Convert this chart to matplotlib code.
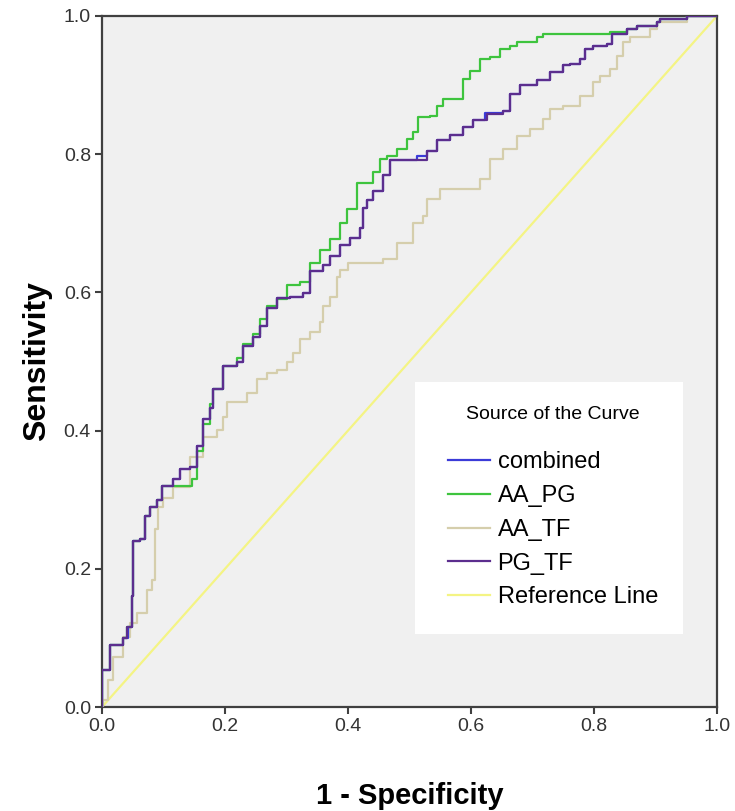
import numpy as np
import matplotlib.pyplot as plt
from matplotlib.patches import Rectangle

plt.rcParams['font.family'] = ['Liberation Sans', 'DejaVu Sans']

# ROC curves: (1 - specificity, sensitivity) at step corners
pg_tf_x = [0.0, 0.0, 0.013, 0.034, 0.04, 0.049, 0.05, 0.062, 0.07, 0.078, 0.089, 0.098, 0.115,
           0.127, 0.143, 0.154, 0.164, 0.176, 0.18, 0.197, 0.22, 0.229, 0.246, 0.257, 0.268,
           0.285, 0.306, 0.327, 0.338, 0.359, 0.371, 0.387, 0.403, 0.42, 0.424, 0.431, 0.441,
           0.457, 0.468, 0.517, 0.528, 0.545, 0.566, 0.587, 0.603, 0.626, 0.652, 0.663, 0.68,
           0.707, 0.728, 0.75, 0.761, 0.777, 0.785, 0.798, 0.821, 0.829, 0.854, 0.87, 0.902,
           0.907, 0.951, 1.0]
pg_tf_y = [0.0, 0.054, 0.09, 0.10, 0.116, 0.16, 0.24, 0.243, 0.276, 0.289, 0.30, 0.32, 0.33,
           0.344, 0.347, 0.378, 0.417, 0.432, 0.46, 0.493, 0.50, 0.523, 0.536, 0.552, 0.577,
           0.592, 0.594, 0.599, 0.631, 0.64, 0.653, 0.669, 0.679, 0.693, 0.722, 0.733, 0.747,
           0.77, 0.791, 0.792, 0.805, 0.82, 0.828, 0.839, 0.849, 0.858, 0.863, 0.887, 0.90,
           0.908, 0.919, 0.929, 0.93, 0.938, 0.952, 0.957, 0.959, 0.974, 0.981, 0.986, 0.991,
           0.996, 1.0, 1.0]

combined_x = [0.0, 0.0, 0.013, 0.034, 0.042, 0.049, 0.05, 0.062, 0.07, 0.078, 0.089, 0.098, 0.115,
              0.127, 0.143, 0.154, 0.164, 0.176, 0.18, 0.197, 0.22, 0.229, 0.246, 0.257, 0.268,
              0.285, 0.306, 0.327, 0.338, 0.359, 0.371, 0.387, 0.403, 0.42, 0.424, 0.431, 0.441,
              0.457, 0.468, 0.512, 0.528, 0.545, 0.566, 0.587, 0.603, 0.622, 0.652, 0.663, 0.68,
              0.707, 0.728, 0.75, 0.761, 0.777, 0.785, 0.798, 0.821, 0.829, 0.854, 0.87, 0.902,
              0.907, 0.951, 1.0]
combined_y = [0.0, 0.054, 0.09, 0.10, 0.116, 0.16, 0.24, 0.243, 0.276, 0.289, 0.30, 0.32, 0.33,
              0.344, 0.347, 0.378, 0.417, 0.432, 0.46, 0.493, 0.50, 0.523, 0.536, 0.552, 0.577,
              0.592, 0.594, 0.599, 0.631, 0.64, 0.653, 0.669, 0.679, 0.693, 0.722, 0.733, 0.747,
              0.77, 0.791, 0.797, 0.805, 0.82, 0.828, 0.839, 0.849, 0.860, 0.863, 0.887, 0.90,
              0.908, 0.919, 0.929, 0.93, 0.938, 0.952, 0.957, 0.959, 0.974, 0.981, 0.986, 0.991,
              0.996, 1.0, 1.0]

aa_pg_x = [0.0, 0.0, 0.013, 0.034, 0.04, 0.049, 0.05, 0.062, 0.07, 0.078, 0.089, 0.098, 0.146,
           0.155, 0.165, 0.176, 0.18, 0.197, 0.22, 0.229, 0.246, 0.257, 0.268, 0.285, 0.30,
           0.322, 0.338, 0.354, 0.371, 0.387, 0.398, 0.415, 0.441, 0.452, 0.463, 0.48, 0.496,
           0.506, 0.514, 0.533, 0.545, 0.554, 0.577, 0.587, 0.598, 0.615, 0.631, 0.647, 0.663,
           0.675, 0.696, 0.707, 0.717, 0.826, 0.854, 0.87, 0.902, 0.907, 0.951, 1.0]
aa_pg_y = [0.0, 0.054, 0.09, 0.10, 0.116, 0.16, 0.24, 0.243, 0.276, 0.289, 0.30, 0.32, 0.33,
           0.37, 0.41, 0.438, 0.46, 0.493, 0.505, 0.525, 0.54, 0.562, 0.58, 0.59, 0.61,
           0.615, 0.643, 0.662, 0.677, 0.701, 0.72, 0.759, 0.774, 0.793, 0.797, 0.807, 0.822,
           0.832, 0.854, 0.855, 0.87, 0.88, 0.88, 0.909, 0.92, 0.938, 0.941, 0.952, 0.957,
           0.962, 0.962, 0.97, 0.974, 0.977, 0.981, 0.986, 0.991, 0.996, 1.0, 1.0]

aa_tf_x = [0.0, 0.002, 0.01, 0.018, 0.034, 0.046, 0.057, 0.073, 0.081, 0.086, 0.091, 0.099, 0.115,
           0.143, 0.164, 0.187, 0.197, 0.203, 0.22, 0.236, 0.252, 0.268, 0.285, 0.301, 0.311,
           0.322, 0.338, 0.354, 0.359, 0.371, 0.382, 0.387, 0.40, 0.457, 0.48, 0.506, 0.522,
           0.528, 0.55, 0.615, 0.631, 0.652, 0.675, 0.696, 0.717, 0.728, 0.75, 0.777, 0.798,
           0.81, 0.826, 0.837, 0.847, 0.859, 0.891, 0.902, 0.951, 1.0]
aa_tf_y = [0.0, 0.01, 0.039, 0.072, 0.101, 0.122, 0.136, 0.17, 0.184, 0.257, 0.29, 0.303, 0.319,
           0.362, 0.391, 0.401, 0.42, 0.441, 0.442, 0.455, 0.474, 0.484, 0.488, 0.499, 0.513,
           0.532, 0.542, 0.557, 0.58, 0.594, 0.623, 0.633, 0.643, 0.648, 0.672, 0.701, 0.71,
           0.735, 0.749, 0.764, 0.793, 0.807, 0.826, 0.836, 0.851, 0.865, 0.87, 0.884, 0.904,
           0.913, 0.923, 0.942, 0.962, 0.97, 0.981, 0.991, 1.0, 1.0]

ref_x = [0.0, 1.0]
ref_y = [0.0, 1.0]

fig = plt.figure(figsize=(7.35, 8.11), dpi=100)
ax = fig.add_axes([102 / 735, 1 - 707 / 811, 615 / 735, 691 / 811])
ax.set_facecolor('#f0f0f0')

lw = 1.6
ax.plot(ref_x, ref_y, color='#f4f484', lw=lw, label='Reference Line', zorder=2)
ax.plot(aa_tf_x, aa_tf_y, color='#d5ceac', lw=lw, drawstyle='steps-post', label='AA_TF', zorder=3)
ax.plot(aa_pg_x, aa_pg_y, color='#3ec43e', lw=lw, drawstyle='steps-post', label='AA_PG', zorder=3)
ax.plot(combined_x, combined_y, color='#3b3bd8', lw=lw, drawstyle='steps-post', label='combined', zorder=4)
ax.plot(pg_tf_x, pg_tf_y, color='#5c2e8e', lw=lw, drawstyle='steps-post', label='PG_TF', zorder=4)

ax.set_xlim(0, 1)
ax.set_ylim(0, 1)
ticks = [0.0, 0.2, 0.4, 0.6, 0.8, 1.0]
ax.set_xticks(ticks)
ax.set_yticks(ticks)
ax.set_xticklabels([f'{t:.1f}' for t in ticks])
ax.set_yticklabels([f'{t:.1f}' for t in ticks])
ax.tick_params(direction='out', length=5, width=1.5, color='#404040',
               labelsize=14, labelcolor='#333333', pad=3)
for s in ax.spines.values():
    s.set_color('#404040')
    s.set_linewidth(1.6)

ax.set_xlabel('1 - Specificity', fontsize=21, fontweight='bold', labelpad=34)
ax.set_ylabel('Sensitivity', fontsize=23, fontweight='bold', labelpad=8)

# white legend box
ax.add_patch(Rectangle((0.509, 0.106), 0.436, 0.365, transform=ax.transAxes,
                       facecolor='white', edgecolor='none', zorder=5))
handles, labels = ax.get_legend_handles_labels()
order = ['combined', 'AA_PG', 'AA_TF', 'PG_TF', 'Reference Line']
h = [handles[labels.index(n)] for n in order]
leg = ax.legend(h, order, title='Source of the Curve', loc='upper left',
                bbox_to_anchor=(0.5626, 0.435), frameon=False, borderpad=0,
                fontsize=17, title_fontsize=14, handlelength=1.8, handletextpad=0.3,
                labelspacing=0.5, borderaxespad=0)
leg._legend_box.sep = 20
leg.set_zorder(6)

fig.savefig('out.png', dpi=100)
